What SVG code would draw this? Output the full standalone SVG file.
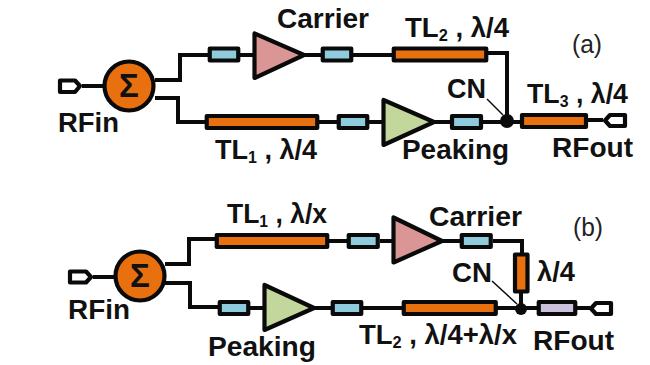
<svg xmlns="http://www.w3.org/2000/svg" width="650" height="365" viewBox="0 0 650 365">
<style>
.w{fill:none;stroke:#0a0a0a;stroke-width:4;stroke-linejoin:miter}
.s{stroke:#0a0a0a;stroke-width:4.2;stroke-linejoin:round}
.o{fill:#e8700f}.b{fill:#8ecbdc}.p{fill:#d99694}.g{fill:#c3d69b}.v{fill:#ccc1da}.n{fill:#fff}
.d{fill:#0a0a0a}
.lead{fill:none;stroke:#0a0a0a;stroke-width:1.5}
text{font-family:"Liberation Sans",Arial,sans-serif;fill:#111}
.t{font-size:27px;font-weight:bold}
.r{font-size:25px;fill:#222}
.m{font-size:33px;font-weight:bold}
.sub{font-size:16px}
</style>
<rect width="650" height="365" fill="#fff"/>
<g id="connectors">
<path class="w" d="M82 86H103M155 80H180V55H208M240 55H253M305 55H321M353 55H392M488 53H507V121M155 98H178V122H205M319 122H337M369 122H382M435 122H450M483 122H520M588 120H603"/>
<path class="lead" d="M487 99L503 115"/>
<path class="w" d="M93 277H114M165 264H189V239H215M329 241H347M380 241H392M443 241H460M493 241H522V253M521 293V309M165 283H190V307H218M250 308H263M315 308H331M363 308H402M497 308H537M577 308H590"/>
<path class="lead" d="M492 281L517 304"/>
</g>
<g id="a-rfin"><path class="s n" d="M60 80.500H75L80 86L75 92H60Z"/><text class="t" x="58" y="132" textLength="61" lengthAdjust="spacingAndGlyphs">RFin</text></g>
<g id="a-sum"><circle class="s o" cx="129" cy="86" r="24.5"/><text class="m" x="129" y="97" text-anchor="middle">Σ</text></g>
<g id="a-stub1"><rect class="s b" x="209.750" y="48.500" width="28.500" height="12"/></g>
<g id="a-carrier"><path class="s p" d="M254.500 33.500V78L304 55Z"/><text class="t" x="277" y="28" textLength="92" lengthAdjust="spacingAndGlyphs">Carrier</text></g>
<g id="a-stub2"><rect class="s b" x="322.750" y="48.500" width="28.500" height="12"/></g>
<g id="a-tl2"><rect class="s o" x="393.750" y="48.500" width="92.500" height="12"/><text class="t" x="405" y="37" textLength="104" lengthAdjust="spacingAndGlyphs">TL<tspan class="sub" dy="4">2</tspan><tspan dy="-4"> , λ/4</tspan></text></g>
<g id="a-tl1"><rect class="s o" x="206.750" y="116" width="110.500" height="12"/><text class="t" x="215" y="159" textLength="102" lengthAdjust="spacingAndGlyphs">TL<tspan class="sub" dy="4">1</tspan><tspan dy="-4"> , λ/4</tspan></text></g>
<g id="a-stub3"><rect class="s b" x="338.750" y="116" width="28.500" height="12"/></g>
<g id="a-peaking"><path class="s g" d="M383.500 100V145L434 122Z"/><text class="t" x="402" y="159" textLength="107" lengthAdjust="spacingAndGlyphs">Peaking</text></g>
<g id="a-stub4"><rect class="s b" x="452" y="116" width="29" height="12"/></g>
<g id="a-cn"><circle class="d" cx="507" cy="121" r="7"/><text class="t" x="447" y="98" textLength="39" lengthAdjust="spacingAndGlyphs">CN</text></g>
<g id="a-tl3"><rect class="s o" x="522" y="115" width="64" height="12"/><text class="t" x="527" y="103" textLength="101" lengthAdjust="spacingAndGlyphs">TL<tspan class="sub" dy="4">3</tspan><tspan dy="-4"> , λ/4</tspan></text></g>
<g id="a-rfout"><path class="s n" d="M625 115H610L605 120.500L610 126H625Z"/><text class="t" x="552" y="157" textLength="81" lengthAdjust="spacingAndGlyphs">RFout</text></g>
<text class="r" x="572" y="53" textLength="30" lengthAdjust="spacingAndGlyphs">(a)</text>
<g id="b-rfin"><path class="s n" d="M70 271.500H86L91 277L86 282.500H70Z"/><text class="t" x="68" y="319" textLength="62" lengthAdjust="spacingAndGlyphs">RFin</text></g>
<g id="b-sum"><circle class="s o" cx="140" cy="276" r="24.5"/><text class="m" x="140" y="287" text-anchor="middle">Σ</text></g>
<g id="b-tl1"><rect class="s o" x="216.750" y="235" width="110.500" height="12"/><text class="t" x="227" y="223" textLength="100" lengthAdjust="spacingAndGlyphs">TL<tspan class="sub" dy="4">1</tspan><tspan dy="-4"> , λ/x</tspan></text></g>
<g id="b-stub1"><rect class="s b" x="348.750" y="235" width="29" height="12"/></g>
<g id="b-carrier"><path class="s p" d="M393.500 217.500V262.500L442 241Z"/><text class="t" x="429" y="226" textLength="93" lengthAdjust="spacingAndGlyphs">Carrier</text></g>
<g id="b-stub2"><rect class="s b" x="461.750" y="235" width="29" height="12"/></g>
<g id="b-tl3"><rect class="s o" x="515" y="254.500" width="12.500" height="37"/><text class="t" x="537" y="281" textLength="38" lengthAdjust="spacingAndGlyphs">λ/4</text></g>
<g id="b-stub3"><rect class="s b" x="219.750" y="302" width="28.500" height="12"/></g>
<g id="b-peaking"><path class="s g" d="M264.500 285V330L314 308Z"/><text class="t" x="208" y="356" textLength="108" lengthAdjust="spacingAndGlyphs">Peaking</text></g>
<g id="b-stub4"><rect class="s b" x="332.750" y="302" width="28.500" height="12"/></g>
<g id="b-tl2"><rect class="s o" x="403.750" y="302" width="92" height="12"/><text class="t" x="359" y="344" textLength="158" lengthAdjust="spacingAndGlyphs">TL<tspan class="sub" dy="4">2</tspan><tspan dy="-4"> , λ/4+λ/x</tspan></text></g>
<g id="b-cn"><circle class="d" cx="521" cy="309" r="6"/><text class="t" x="452" y="282" textLength="40" lengthAdjust="spacingAndGlyphs">CN</text></g>
<g id="b-balun"><rect class="s v" x="538.750" y="302" width="36.500" height="12"/></g>
<g id="b-rfout"><path class="s n" d="M611 303H596L591 308.500L596 314H611Z"/><text class="t" x="533" y="350" textLength="81" lengthAdjust="spacingAndGlyphs">RFout</text></g>
<text class="r" x="573" y="236" textLength="30" lengthAdjust="spacingAndGlyphs">(b)</text>
</svg>
